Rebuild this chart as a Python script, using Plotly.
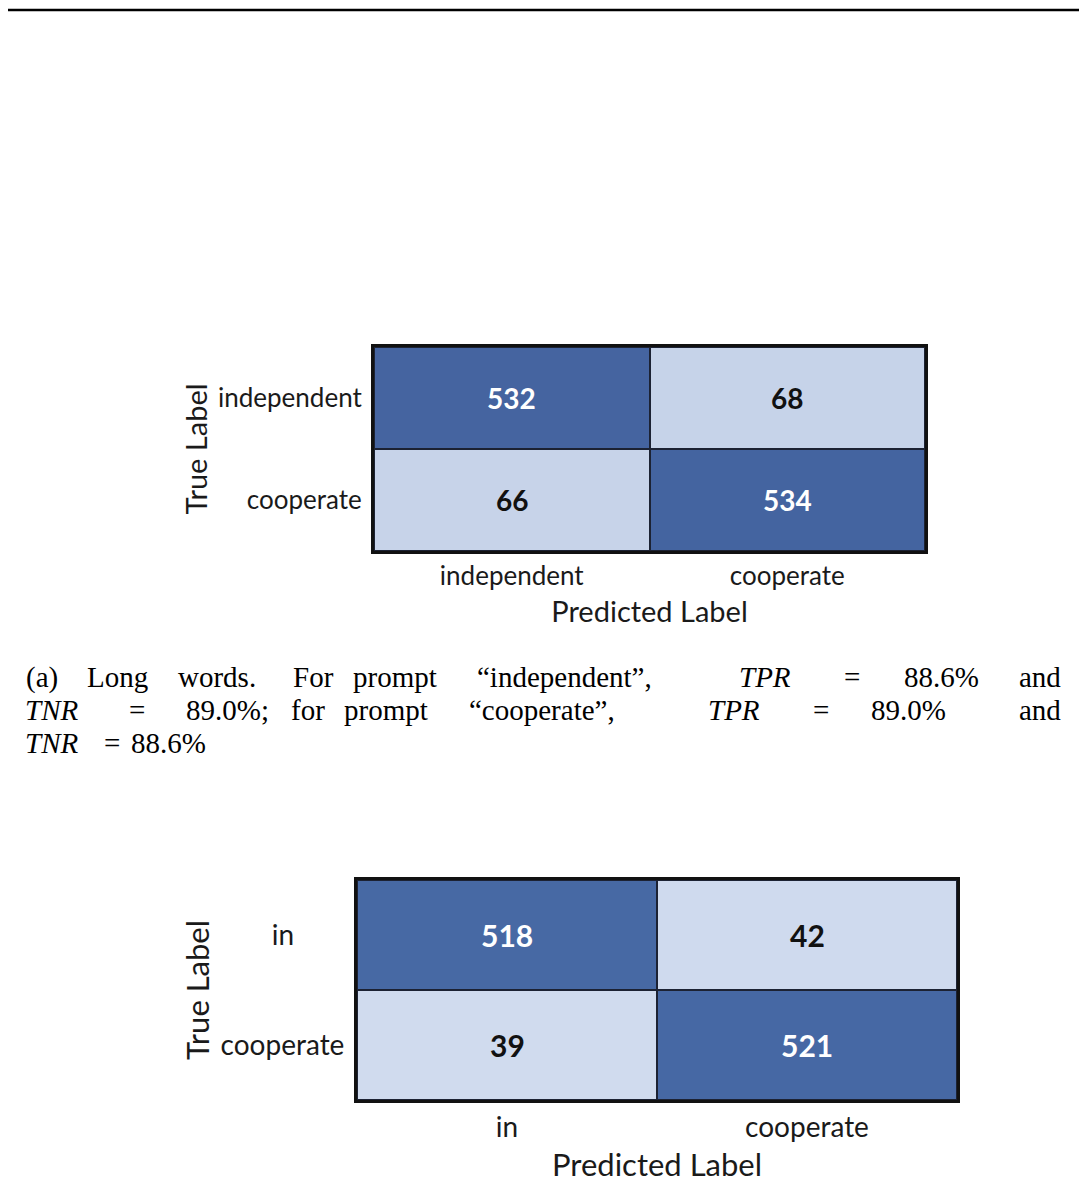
import plotly.graph_objects as go
from plotly.subplots import make_subplots

# data
long_labels = ["independent", "cooperate"]
long_counts = [[532, 68],
               [66, 534]]

short_labels = ["in", "cooperate"]
short_counts = [[518, 42],
                [39, 521]]

# the page body has an 8px margin, so the figure sits 8px in from the corner
OFF = 8
W, H = 1087 - 2 * OFF, 1183 - OFF


def px_x(v):
    return (v - OFF) / W


def px_y(v):
    return 1 - (v - OFF) / H


fig = make_subplots(rows=2, cols=1)

# (cells, labels, colours, box in pixels, tick size, title size, title standoff)
panels = [
    (long_counts, long_labels, ["#c7d3e9", "#4464a0"], (374, 925, 347, 551), 26, 29, 12),
    (short_counts, short_labels, ["#d0dbee", "#4668a4"], (357, 957, 880, 1100), 28, 31, 20),
]

for i, (z, labels, cols, box, tick_size, title_size, title_gap) in enumerate(panels, start=1):
    fig.add_trace(go.Heatmap(
        z=z, x=labels, y=labels,
        colorscale=[[0, cols[0]], [1, cols[1]]],
        showscale=False, xgap=2, ygap=2, hoverinfo="skip",
    ), row=i, col=1)

    # numbers inside the cells
    zmax = max(max(r) for r in z)
    for r, row in enumerate(z):
        for c, v in enumerate(row):
            fig.add_annotation(
                x=labels[c], y=labels[r], xref="x%d" % i, yref="y%d" % i,
                text="<b>%d</b>" % v, showarrow=False,
                font=dict(family="Lato", size=tick_size + 2,
                          color="white" if v > zmax / 2 else "#111111"))

    x0, x1, y0, y1 = box
    # short label "in" is centred in the original, pad it so it sits left
    ytext = [lab + "\u00a0" * 7 if lab == "in" else lab for lab in labels]
    fig.update_xaxes(
        domain=[px_x(x0), px_x(x1)], row=i, col=1,
        showline=True, mirror=True, linewidth=3, linecolor="#111111",
        ticks="", ticklen=0, showgrid=False, zeroline=False, ticklabelstandoff=0,
        tickfont=dict(family="Lato", size=tick_size, color="#1a1a1a"),
        title=dict(text="Predicted Label", standoff=title_gap,
                   font=dict(family="Lato", size=title_size, color="#1a1a1a")),
    )
    fig.update_yaxes(
        domain=[px_y(y1), px_y(y0)], row=i, col=1, autorange="reversed",
        showline=True, mirror=True, linewidth=3, linecolor="#111111",
        ticks="", showgrid=False, zeroline=False, ticklabelstandoff=4,
        tickmode="array", tickvals=labels, ticktext=ytext,
        tickfont=dict(family="Lato", size=tick_size, color="#1a1a1a"),
        title=dict(text="True Label", standoff=2,
                   font=dict(family="Lato", size=title_size, color="#1a1a1a")),
    )

# caption between the panels, words laid out as in the justified original
caption_lines = [
    (677, [("(a)", 25), ("Long", 86), ("words.", 177), ("For", 292), ("prompt", 352),
           ("\u201cindependent\u201d,", 476), ("<i>TPR</i>", 738), ("=", 843),
           ("88.6%", 903), ("and", 1018)]),
    (710, [("<i>TNR</i>", 24), ("=", 128), ("89.0%;", 185), ("for", 290), ("prompt", 343),
           ("\u201ccooperate\u201d,", 468), ("<i>TPR</i>", 707), ("=", 812),
           ("89.0%", 870), ("and", 1018)]),
    (743, [("<i>TNR</i>", 24), ("=", 103), ("88.6%", 130)]),
]
for yc, words in caption_lines:
    for word, xl in words:
        fig.add_annotation(
            x=px_x(xl), y=px_y(yc), xref="paper", yref="paper",
            xanchor="left", yanchor="middle", text=word, showarrow=False,
            borderpad=0,
            font=dict(family="Liberation Serif", size=29, color="black"))

# rule along the top of the page
fig.add_shape(type="line", xref="paper", yref="paper",
              x0=0, x1=1, y0=px_y(10), y1=px_y(10),
              line=dict(color="black", width=2.5))

fig.update_layout(
    width=W, height=H, autosize=False,
    margin=dict(l=0, r=0, t=0, b=0),
    paper_bgcolor="white", plot_bgcolor="#1c2233",
    showlegend=False,
)

fig.write_html("out.html")
